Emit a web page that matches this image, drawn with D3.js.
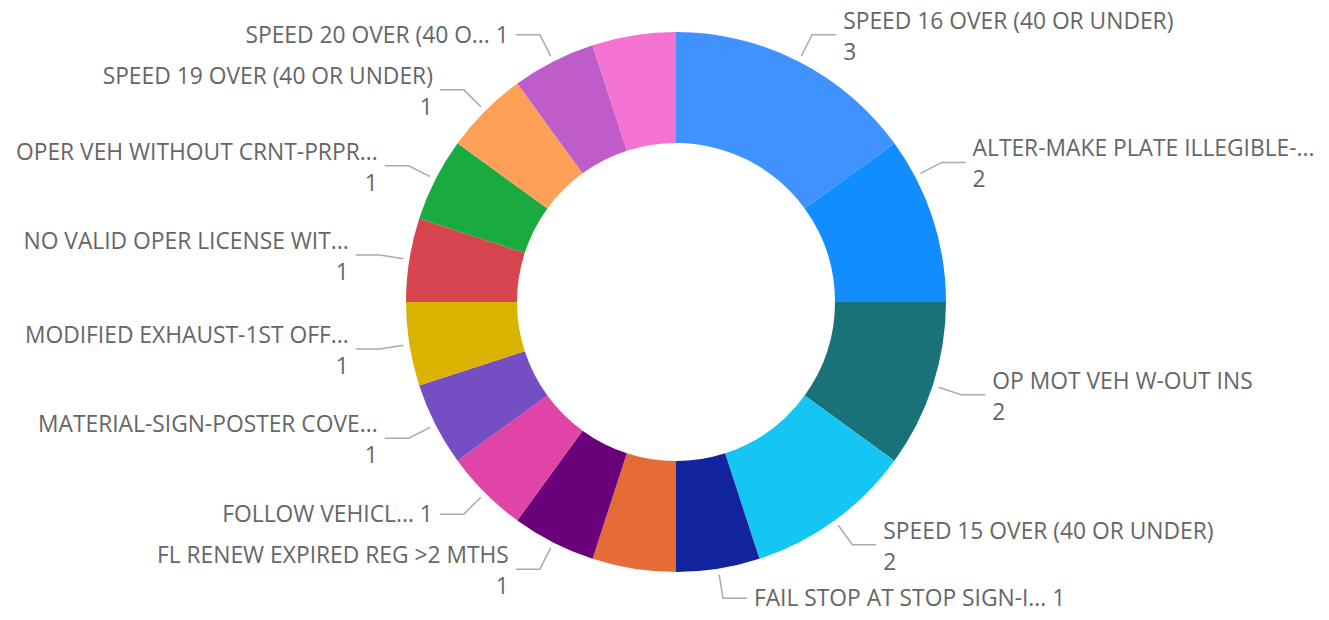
<!DOCTYPE html>
<html>
<head>
<meta charset="utf-8">
<script src="https://cdn.jsdelivr.net/npm/d3@7"></script>
<style>
  html, body { margin: 0; padding: 0; background: #ffffff; }
  svg { display: block; }
</style>
</head>
<body>
<svg id="chart" width="1329" height="620"></svg>
<script>
// Citation counts by violation description
const categories = [
  "SPEED 16 OVER (40 OR UNDER)",
  "ALTER-MAKE PLATE ILLEGIBLE-...",
  "OP MOT VEH W-OUT INS",
  "SPEED 15 OVER (40 OR UNDER)",
  "FAIL STOP AT STOP SIGN-I...",
  "FAIL TO YIELD ROW",
  "FL RENEW EXPIRED REG >2 MTHS",
  "FOLLOW VEHICL...",
  "MATERIAL-SIGN-POSTER COVE...",
  "MODIFIED EXHAUST-1ST OFF...",
  "NO VALID OPER LICENSE WIT...",
  "OPER VEH WITHOUT CRNT-PRPR...",
  "SPEED 19 OVER (40 OR UNDER)",
  "SPEED 20 OVER (40 O...",
  "UNLAWFUL SPEED"
];
const counts = [3, 2, 2, 2, 1, 1, 1, 1, 1, 1, 1, 1, 1, 1, 1];
const palette = [
  "#4092FF", "#118DFF", "#197278", "#15C6F4", "#12239E",
  "#E66C37", "#6B007B", "#E044A7", "#744EC2", "#D9B300",
  "#D64550", "#1AAB40", "#FFA058", "#BE5DC9", "#F472D0"
];

const W = 1329, H = 620;
const cx = 676, cy = 302;
const outerR = 270, innerR = 159;
const leaderStartR = outerR + 6;
const kneeR = outerR + 30;
const armLen = 24;
const textGap = 7;
const edgePad = 14;
const fontSize = 22.8;
const fontFamily = "'Open Sans', 'Noto Sans', sans-serif";
const line1Off = -14, line2Off = 17;   // centre of each text line relative to the knee
const capHalf = 8;                      // half cap height, to put baselines from line centres
const halfLine = 16;

const rows = categories.map((c, i) => ({ name: c, value: counts[i], color: palette[i] }));
const fmt = d3.format(",");

const svg = d3.select("#chart");
const g = svg.append("g").attr("transform", `translate(${cx},${cy})`);

const pie = d3.pie().sort(null).value(d => d.value);
const arc = d3.arc().innerRadius(innerR).outerRadius(outerR);
const arcs = pie(rows);

g.selectAll("path.slice")
  .data(arcs)
  .join("path")
  .attr("class", "slice")
  .attr("d", arc)
  .attr("fill", d => d.data.color);

// text width helper
const probe = svg.append("text")
  .attr("font-family", fontFamily)
  .attr("font-size", fontSize)
  .attr("visibility", "hidden");
const measure = s => { probe.text(s); return probe.node().getComputedTextLength(); };

// ---- outside label layout ----
const kneeX = a => cx + kneeR * Math.sin(a);
const kneeY = a => cy - kneeR * Math.cos(a);

const labels = arcs.map(d => {
  let a = (d.startAngle + d.endAngle) / 2;
  const side = Math.sin(a) >= 0 ? 1 : -1;
  const w = measure(d.data.name);
  const fits = ang => side > 0
    ? kneeX(ang) + armLen + textGap + w <= W - edgePad
    : kneeX(ang) - armLen - textGap - w >= edgePad;
  // slide the anchor towards the slice edge nearest the vertical until the text fits
  const margin = (d.endAngle - d.startAngle) * 0.1;
  const toward = Math.abs(Math.sin(d.startAngle)) < Math.abs(Math.sin(d.endAngle))
    ? d.startAngle + margin : d.endAngle - margin;
  const step = (toward - a) / 40;
  for (let k = 0; k < 40 && !fits(a); k++) a += step;
  return { d, mid: a, side, y: kneeY(a), mode: null };
});

const twoBox = l => [l.y + line1Off - halfLine, l.y + line2Off + halfLine - 2];
const oneBox = l => [l.y - halfLine + 1, l.y + halfLine - 1];
const inside = b => b[0] >= 0 && b[1] <= H;
const overlaps = (a, b) => a[0] < b[1] && b[0] < a[1];

// Labels are placed counter-clockwise from the top: left side top-down, right side bottom-up.
// A label gets name and value on two lines when room allows, one line otherwise, or is dropped.
[-1, 1].forEach(side => {
  const list = labels.filter(l => l.side === side)
    .sort((a, b) => side < 0 ? a.y - b.y : b.y - a.y);
  const placed = [];
  list.forEach((l, i) => {
    const next = list[i + 1];
    const b2 = twoBox(l), b1 = oneBox(l);
    const clear = b => placed.every(p => !overlaps(b, p.box));
    const nextBlocks = next && inside(twoBox(next)) && overlaps(b2, twoBox(next));
    if (inside(b2) && clear(b2) && !nextBlocks) {
      l.mode = 2; l.box = b2; placed.push(l);
    } else if (inside(b1) && clear(b1)) {
      l.mode = 1; l.box = b1; placed.push(l);
    }
  });
});
probe.remove();

const shown = labels.filter(l => l.mode);
const lg = svg.append("g").attr("class", "labels");

lg.selectAll("polyline")
  .data(shown)
  .join("polyline")
  .attr("fill", "none")
  .attr("stroke", "#ababab")
  .attr("stroke-width", 1.5)
  .attr("points", l => {
    const sx = cx + leaderStartR * Math.sin(l.mid);
    const sy = cy - leaderStartR * Math.cos(l.mid);
    const kx = kneeX(l.mid);
    const ex = kx + l.side * armLen;
    return [[sx, sy], [kx, l.y], [ex, l.y]].map(p => p.join(",")).join(" ");
  });

const texts = lg.selectAll("text")
  .data(shown)
  .join("text")
  .attr("font-family", fontFamily)
  .attr("font-size", fontSize)
  .attr("fill", "#666666")
  .attr("text-anchor", l => l.side > 0 ? "start" : "end")
  .attr("x", l => kneeX(l.mid) + l.side * (armLen + textGap));

texts.each(function(l) {
  const t = d3.select(this);
  const x = t.attr("x");
  if (l.mode === 2) {
    t.append("tspan").attr("x", x).attr("y", l.y + line1Off + capHalf).text(l.d.data.name);
    t.append("tspan").attr("x", x).attr("y", l.y + line2Off + capHalf).text(fmt(l.d.data.value));
  } else {
    t.append("tspan").attr("x", x).attr("y", l.y + capHalf)
      .text(`${l.d.data.name} ${fmt(l.d.data.value)}`);
  }
});
</script>
</body>
</html>
